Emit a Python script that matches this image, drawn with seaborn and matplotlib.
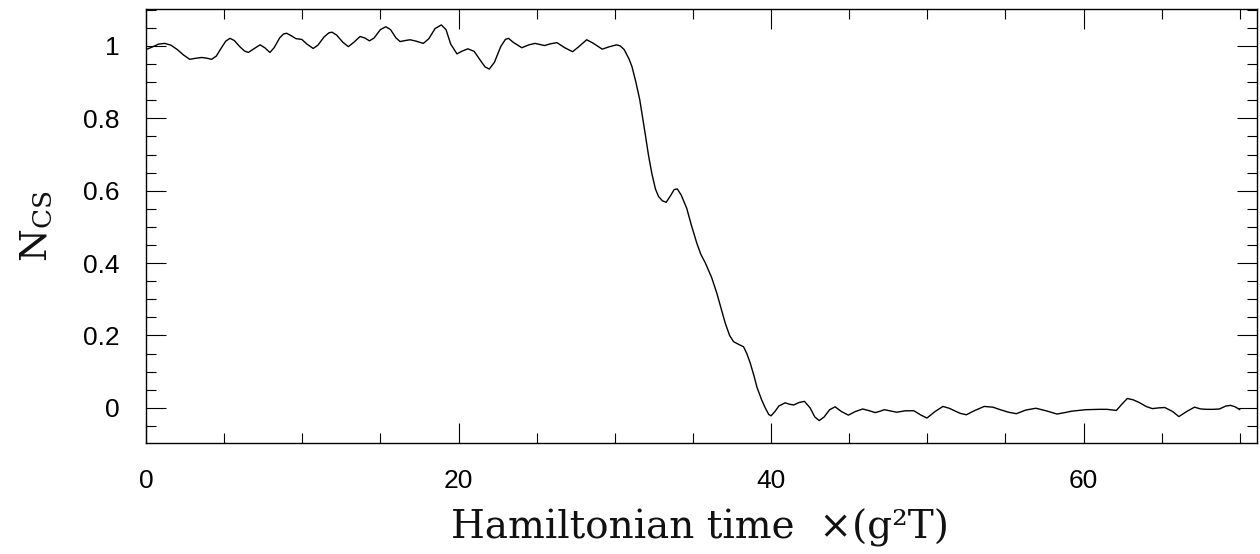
import matplotlib
matplotlib.use("Agg")
import matplotlib.pyplot as plt
from matplotlib.ticker import MultipleLocator, FormatStrFormatter
import seaborn as sns
import pandas as pd

# Hamiltonian time (g^2 T)
time = [0.0, 0.4, 0.8, 1.2, 1.6, 2.0, 2.4, 2.8, 3.2, 3.56, 3.9, 4.2, 4.5, 4.8,
        5.1, 5.37, 5.65, 6.0, 6.3, 6.55, 6.9, 7.3, 7.6, 7.93, 8.2, 8.55, 8.8, 9.0,
        9.3, 9.6, 9.97, 10.3, 10.7, 11.0, 11.4, 11.7, 11.9, 12.2, 12.6, 12.95,
        13.3, 13.7, 14.0, 14.3, 14.6, 15.0, 15.35, 15.65, 16.0, 16.26, 16.6, 16.9,
        17.3, 17.75, 18.1, 18.5, 18.9, 19.2, 19.5, 19.9, 20.2, 20.6, 21.0, 21.4,
        21.7, 21.97, 22.3, 22.7, 23.0, 23.2, 23.5, 24.05, 24.5, 24.9, 25.2, 25.5,
        25.9, 26.3, 26.8, 27.3, 27.7, 28.2, 28.6, 29.2, 29.6, 30.1, 30.35, 30.6,
        30.9, 31.1, 31.35, 31.6, 31.94, 32.15, 32.37, 32.6, 32.8, 33.05, 33.29,
        33.55, 33.8, 34.0, 34.25, 34.6, 34.9, 35.25, 35.5, 35.8, 36.2, 36.53,
        36.8, 37.07, 37.35, 37.6, 37.9, 38.24, 38.45, 38.66, 38.9, 39.1, 39.4,
        39.63, 39.85, 40.0, 40.25, 40.5, 40.9, 41.2, 41.45, 41.8, 42.14, 42.5,
        42.8, 43.08, 43.4, 43.75, 44.1, 44.5, 44.95, 45.4, 45.87, 46.3, 46.67,
        47.0, 47.24, 47.6, 48.04, 48.6, 49.14, 49.6, 49.98, 50.5, 51.0, 51.4,
        51.7, 52.1, 52.5, 53.0, 53.64, 54.2, 54.67, 55.2, 55.7, 56.3, 56.95,
        57.6, 58.3, 58.8, 59.25, 60.16, 61.0, 61.5, 62.1, 62.45, 62.8, 63.2,
        63.6, 64.0, 64.4, 64.8, 65.2, 65.7, 66.1, 66.6, 67.1, 67.5, 67.9, 68.3,
        68.7, 69.1, 69.4, 69.7, 70.0]
# N_CS
ncs = [0.990, 0.997, 1.005, 1.007, 1.002, 0.990, 0.975, 0.963, 0.966, 0.968,
       0.966, 0.963, 0.972, 0.993, 1.013, 1.021, 1.015, 0.998, 0.986, 0.982,
       0.992, 1.003, 0.995, 0.982, 0.995, 1.022, 1.033, 1.035, 1.028, 1.020,
       1.018, 1.005, 0.993, 1.002, 1.025, 1.036, 1.038, 1.030, 1.010, 0.998,
       1.010, 1.026, 1.022, 1.014, 1.022, 1.045, 1.053, 1.045, 1.022, 1.012,
       1.015, 1.017, 1.013, 1.007, 1.020, 1.048, 1.058, 1.045, 1.005, 0.978,
       0.985, 0.992, 0.985, 0.960, 0.942, 0.936, 0.955, 0.998, 1.018, 1.021,
       1.010, 0.995, 1.003, 1.007, 1.004, 1.001, 1.006, 1.009, 0.995, 0.984,
       0.998, 1.017, 1.008, 0.991, 0.997, 1.003, 1.000, 0.990, 0.965, 0.943,
       0.900, 0.851, 0.759, 0.700, 0.648, 0.605, 0.584, 0.572, 0.568, 0.585,
       0.603, 0.605, 0.588, 0.552, 0.505, 0.455, 0.425, 0.400, 0.360, 0.317,
       0.275, 0.234, 0.200, 0.183, 0.176, 0.169, 0.150, 0.125, 0.090, 0.057,
       0.022, 0.000, -0.018, -0.022, -0.010, 0.005, 0.014, 0.010, 0.008, 0.015,
       0.018, 0.000, -0.025, -0.035, -0.025, -0.005, 0.003, -0.010, -0.020,
       -0.010, -0.003, -0.008, -0.013, -0.009, -0.005, -0.008, -0.012, -0.008,
       -0.008, -0.020, -0.028, -0.010, 0.004, -0.001, -0.007, -0.015, -0.019,
       -0.008, 0.004, 0.002, -0.005, -0.012, -0.016, -0.006, -0.001, -0.008,
       -0.017, -0.013, -0.009, -0.005, -0.004, -0.004, -0.007, 0.010, 0.026,
       0.022, 0.014, 0.004, -0.002, 0.000, 0.001, -0.010, -0.024, -0.010, 0.002,
       -0.003, -0.004, -0.004, -0.003, 0.005, 0.007, 0.003, -0.005]

x_major_ticks = [0, 20, 40, 60]
y_major_ticks = [0, 0.2, 0.4, 0.6, 0.8, 1.0]

sns.set_style("white")
plt.rcParams["font.family"] = ["Liberation Sans", "DejaVu Sans"]
plt.rcParams["mathtext.fontset"] = "dejavuserif"
plt.rcParams["text.color"] = "black"
plt.rcParams["xtick.color"] = "black"
plt.rcParams["ytick.color"] = "black"
plt.rcParams["axes.labelcolor"] = "black"

df = pd.DataFrame({"t": time, "n": ncs})

fig = plt.figure(figsize=(12.6, 5.54), dpi=100)
ax = fig.add_axes([146 / 1260, 111 / 554, 1111 / 1260, 434 / 554])
sns.lineplot(data=df, x="t", y="n", ax=ax, color="black", linewidth=1.0,
             estimator=None, sort=False)
for ln in ax.lines:
    ln.set_solid_joinstyle("round")

ax.set_xlim(0, 71.1)
ax.set_ylim(-0.097, 1.102)
ax.set_xticks(x_major_ticks)
ax.set_yticks(y_major_ticks)
ax.xaxis.set_minor_locator(MultipleLocator(5))
ax.yaxis.set_minor_locator(MultipleLocator(0.05))
ax.yaxis.set_major_formatter(FormatStrFormatter("%g"))

ax.tick_params(which="both", direction="in", top=True, right=True,
               bottom=True, left=True, color="black", width=0.8,
               labelcolor="black")
ax.tick_params(which="major", length=14.4, labelsize=19, pad=19)
ax.tick_params(which="minor", length=7.2)
for s in ax.spines.values():
    s.set_color("black")
    s.set_linewidth(1.0)

ax.set_xlabel("Hamiltonian time  ×(g²T)", fontsize=28,
              family=["DejaVu Serif"], color="#111111")
ax.set_ylabel(r"$\mathrm{N}_{\mathrm{CS}}$", fontsize=27, color="#111111")
ax.xaxis.set_label_coords(0.4986, -0.150)
ax.yaxis.set_label_coords(-0.082, 0.5)

fig.savefig("out.png", dpi=100)
